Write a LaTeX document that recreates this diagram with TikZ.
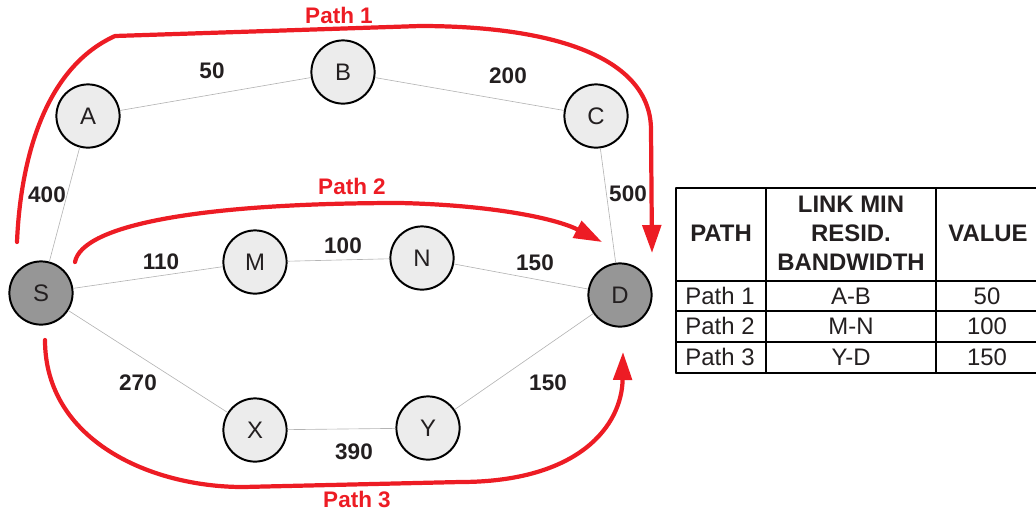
\documentclass[tikz,border=0pt]{standalone}
\usepackage{fontspec}
\setmainfont{Liberation Sans}
\usetikzlibrary{arrows.meta, positioning, calc}
\definecolor{PathRed}{RGB}{237, 28, 36}
\definecolor{NodeLight}{RGB}{236, 236, 236}
\definecolor{NodeDark}{RGB}{150, 150, 150}
\definecolor{LinkGrey}{RGB}{180, 180, 180}
\definecolor{InkGrey}{RGB}{35, 31, 32}
\tikzset{every path/.style={line cap=round, line join=round}}

\begin{document}
\begin{tikzpicture}[
    x=0.025cm,
    y=-0.025cm,
    router/.style={
        circle,
        draw=black,
        fill=NodeLight,
        line width=1.4pt,
        minimum size=1.58cm,
        inner sep=0pt,
        text=InkGrey,
        font=\fontsize{17}{20}\selectfont
    },
    endpoint/.style={router, fill=NodeDark},
    link/.style={draw=LinkGrey, line width=0.45pt},
    weight/.style={font=\fontsize{16}{19}\selectfont\bfseries, text=InkGrey},
    route/.style={-{Triangle[length=7mm, width=4.6mm]}, draw=PathRed, line width=3pt},
    routelabel/.style={font=\fontsize{16}{19}\selectfont\bfseries, text=PathRed},
    cell/.style={font=\fontsize{17}{20}\selectfont, text=InkGrey},
    headcell/.style={font=\fontsize{17}{20.5}\selectfont\bfseries, text=InkGrey, align=center},
    rule/.style={draw=black, line width=1pt}
]

\useasboundingbox (0,0) rectangle (1036,516);

% network nodes
\node[endpoint] (S) at (41,293) {S};
\node[router] (A) at (88,116) {A};
\node[router] (B) at (343,72) {B};
\node[router] (C) at (596,116) {C};
\node[router] (M) at (255,262) {M};
\node[router] (N) at (422,258) {N};
\node[endpoint] (D) at (620,295) {D};
\node[router] (X) at (255,430) {X};
\node[router] (Y) at (428,428) {Y};

% links
\draw[link] (S) -- (A);
\draw[link] (A) -- (B);
\draw[link] (B) -- (C);
\draw[link] (C) -- (D);
\draw[link] (S) -- (M);
\draw[link] (M) -- (N);
\draw[link] (N) -- (D);
\draw[link] (S) -- (X);
\draw[link] (X) -- (Y);
\draw[link] (Y) -- (D);

% link weights
\node[weight] (wSA) at (47,195) {400};
\node[weight] (wAB) at (212,71) {50};
\node[weight] (wBC) at (508,76) {200};
\node[weight] (wCD) at (628,194) {500};
\node[weight] (wSM) at (161,262) {110};
\node[weight] (wMN) at (343,246) {100};
\node[weight] (wND) at (535,263) {150};
\node[weight] (wSX) at (138,383) {270};
\node[weight] (wXY) at (354,452) {390};
\node[weight] (wYD) at (548,383) {150};

% routes from S to D
\coordinate (r1start) at (17,242);
\coordinate (r1end) at (652,253);
\coordinate (r2start) at (75,262);
\coordinate (r2end) at (602,242);
\coordinate (r3start) at (45,340);
\coordinate (r3end) at (623,352);

\draw[route] (r1start) .. controls (20,170) and (40,70) .. (115,36)
    -- (420,26) .. controls (560,26) and (651,60) .. (651,130) -- (r1end);
\draw[route] (r2start) .. controls (82,225) and (200,203) .. (400,203)
    .. controls (490,205) and (555,218) .. (r2end);
\draw[route] (r3start) .. controls (45,440) and (150,487) .. (243,487)
    -- (460,482) .. controls (580,482) and (622,425) .. (r3end);

\node[routelabel] (lab1) at (339,15) {Path 1};
\node[routelabel] (lab2) at (352,186) {Path 2};
\node[routelabel] (lab3) at (357,499) {Path 3};

% table
\draw[rule] (676,188) -- (1036,188);
\draw[rule] (676,281) -- (1036,281);
\draw[rule] (676,311) -- (1036,311);
\draw[rule] (676,342) -- (1036,342);
\draw[rule] (676,373) -- (1036,373);
\draw[rule] (676,188) -- (676,373);
\draw[rule] (766,188) -- (766,373);
\draw[rule] (936,188) -- (936,373);

\node[headcell] (hPath) at (721,233) {PATH};
\node[headcell] (hLink) at (851,233) {LINK MIN\\RESID.\\BANDWIDTH};
\node[headcell] (hValue) at (988,233) {VALUE};

\node[cell] (p1) at (720,296) {Path 1};
\node[cell] (l1) at (851,296) {A-B};
\node[cell] (v1) at (987,296) {50};
\node[cell] (p2) at (720,326) {Path 2};
\node[cell] (l2) at (851,326) {M-N};
\node[cell] (v2) at (987,326) {100};
\node[cell] (p3) at (720,357) {Path 3};
\node[cell] (l3) at (851,357) {Y-D};
\node[cell] (v3) at (987,357) {150};

\end{tikzpicture}
\end{document}
